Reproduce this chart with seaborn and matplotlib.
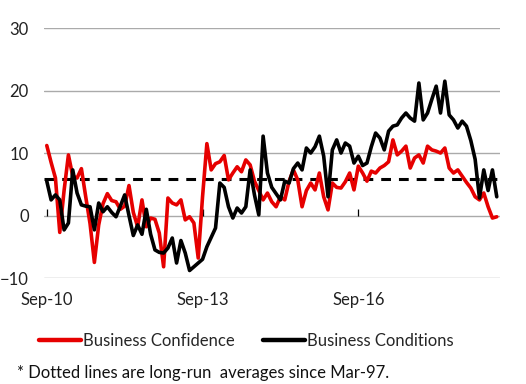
import numpy as np
import pandas as pd
import matplotlib
matplotlib.use("Agg")
import matplotlib.pyplot as plt
import seaborn as sns

# NAB survey, monthly Sep-10 .. May-19 (net balance)
confidence = [11.2, 8.5, 6.0, -2.7, 4.0, 9.7, 6.3, 6.0, 7.5, 3.0,
              -1.3, -7.5, -1.5, 1.9, 3.5, 2.4, 2.2, 1.0, 1.5, 4.8,
              0.5, -1.8, 2.5, -1.8, -0.4, -0.6, -2.8, -8.2, 2.8, 2.0,
              1.7, 2.5, -0.7, -0.2, -1.2, -6.8, 3.0, 11.5, 7.3, 8.3,
              8.6, 9.6, 5.7, 6.8, 7.8, 7.0, 8.9, 8.1, 5.5, 4.0,
              2.5, 3.6, 2.2, 1.4, 3.0, 2.5, 5.5, 7.3, 5.7, 1.4,
              4.0, 5.2, 4.1, 6.8, 3.0, 0.9, 5.2, 4.5, 4.4, 5.4,
              6.8, 4.1, 7.9, 6.8, 5.5, 7.1, 6.8, 7.6, 8.0, 8.6,
              12.1, 9.7, 10.3, 11.1, 7.6, 9.2, 9.7, 8.4, 11.1, 10.5,
              10.3, 10.0, 10.8, 7.6, 6.8, 7.3, 6.3, 5.3, 4.4, 3.0,
              2.5, 3.6, 1.4, -0.4, -0.2]

conditions = [5.5, 2.5, 3.3, 2.5, -2.3, -1.2, 7.3, 3.6, 1.7, 1.5,
              1.4, -2.3, 2.0, 0.6, 1.4, 0.5, -0.2, 1.5, 3.3, 0.0,
              -3.2, -1.5, -3.0, 1.0, -3.0, -5.5, -5.9, -6.0, -5.2, -3.6,
              -7.6, -4.0, -6.0, -8.8, -8.2, -7.6, -7.0, -5.0, -3.5, -2.0,
              5.2, 4.5, 1.4, -0.4, 1.2, 0.4, 1.4, 7.3, 3.3, 0.1,
              12.7, 6.8, 4.5, 3.5, 2.5, 5.5, 5.2, 7.5, 8.4, 7.3,
              10.8, 10.0, 11.0, 12.7, 9.5, 3.0, 10.5, 12.1, 10.0, 11.6,
              11.1, 8.4, 9.5, 8.0, 8.4, 11.0, 13.2, 12.4, 10.5, 13.5,
              14.3, 14.5, 15.6, 16.4, 15.6, 15.1, 21.2, 15.3, 16.4, 18.6,
              20.7, 16.4, 21.5, 16.1, 15.3, 14.0, 15.1, 14.3, 12.0, 9.0,
              2.8, 7.3, 4.0, 7.3, 3.0]

long_run_avg = 5.8
tick_pos = [0, 36, 72]
tick_labels = ["Sep-10", "Sep-13", "Sep-16"]

months = np.arange(len(confidence))
df = pd.DataFrame({
    "month": np.concatenate([months, months]),
    "value": confidence + conditions,
    "series": ["Business Confidence"] * len(months) + ["Business Conditions"] * len(months),
})

sns.set_style("white")
plt.rcParams["font.family"] = ["Lato", "DejaVu Sans"]

fig = plt.figure(figsize=(5.26, 3.84), dpi=100)
ax = fig.add_axes([0.084, 0.276, 0.867, 0.651])

# gridlines first so lines sit on top
for v in [-10, 0, 10, 20, 30]:
    ax.axhline(v, color="#aaaaaa", lw=1.0, zorder=0)

ax.axhline(long_run_avg, color="black", lw=2.2, ls=(0, (3.2, 2.6)), zorder=2)

sns.lineplot(data=df, x="month", y="value", hue="series",
             palette={"Business Confidence": "#e60000", "Business Conditions": "black"},
             linewidth=2.6, ax=ax, zorder=3, legend=True)
for ln in ax.get_lines()[-2:]:
    ln.set_solid_joinstyle("miter")

ax.set_xlim(-0.6, 104.8)
ax.set_ylim(-10, 30)
ax.set_yticks([-10, 0, 10, 20, 30])
ax.set_xticks(tick_pos)
ax.set_xticklabels(tick_labels)
ax.tick_params(axis="both", length=0, labelsize=12, colors="#222222")
ax.tick_params(axis="y", pad=11)
ax.tick_params(axis="x", pad=10)
ax.set_xlabel("")
ax.set_ylabel("")
for s in ax.spines.values():
    s.set_visible(False)

# small upward ticks sitting on the zero line
sec = ax.secondary_xaxis(0.25)
sec.set_xticks(tick_pos)
sec.set_xticklabels([])
sec.tick_params(axis="x", which="major", bottom=True, top=False, direction="in",
                length=5, width=0.9, color="black",
                labelbottom=False, labeltop=False)
sec.spines["bottom"].set_visible(False)
sec.spines["top"].set_visible(False)

handles, labels = ax.get_legend_handles_labels()
ax.get_legend().remove()
for h in handles:
    h.set_linewidth(3.2)
fig.legend(handles, labels, loc="center left", bbox_to_anchor=(0.074, 0.112),
           ncol=2, frameon=False, fontsize=12, handlelength=2.5,
           handletextpad=0.15, columnspacing=1.7, borderpad=0, borderaxespad=0)

fig.text(0.032, 0.028, "* Dotted lines are long-run  averages since Mar-97.",
         fontsize=12, va="center", ha="left", color="#111111")

fig.savefig("out.png", dpi=100)
